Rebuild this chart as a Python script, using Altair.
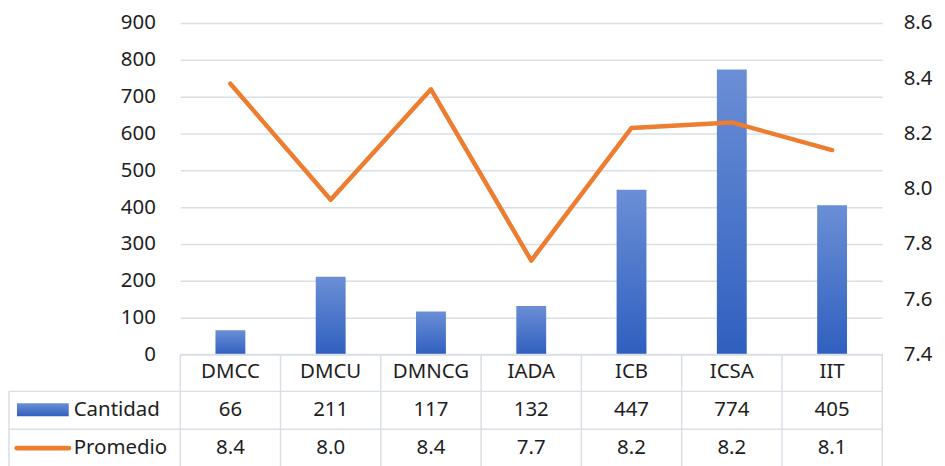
import altair as alt
import pandas as pd

categories = ["DMCC", "DMCU", "DMNCG", "IADA", "ICB", "ICSA", "IIT"]
cantidad = [66, 211, 117, 132, 447, 774, 405]
promedio = [8.38, 7.96, 8.36, 7.74, 8.22, 8.24, 8.14]
left_ticks = [0, 100, 200, 300, 400, 500, 600, 700, 800, 900]
right_ticks = [7.4, 7.6, 7.8, 8.0, 8.2, 8.4, 8.6]

df = pd.DataFrame({
    "cat": categories,
    "cantidad": cantidad,
    "promedio": promedio,
    "cant_lbl": [str(v) for v in cantidad],
    "prom_lbl": [f"{v:.1f}" for v in promedio],
})
one = pd.DataFrame({"a": [0]})

FONT = "Noto Sans"
FS = 20.5
TXT = "#1e1e1e"
GRID = "#dadfe6"
W, H = 705, 333
ROW1, ROW2, ROW3 = 351, 389, 427
TBL_BOTTOM = 460
LEFT = -172

blue_grad = alt.Gradient(
    gradient="linear",
    stops=[alt.GradientStop(color="#6b8fd6", offset=0),
           alt.GradientStop(color="#2f5fbf", offset=1)],
    x1=0, x2=0, y1=0, y2=1,
)

xenc = alt.X("cat:N", sort=categories,
             scale=alt.Scale(paddingInner=0, paddingOuter=0), axis=None)

bars = alt.Chart(df).mark_bar(size=30, color=blue_grad).encode(
    x=xenc,
    y=alt.Y("cantidad:Q", scale=alt.Scale(domain=[0, 900]),
            axis=alt.Axis(values=left_ticks, grid=True, gridColor=GRID,
                          gridWidth=1.5, domain=False, ticks=False,
                          labelPadding=25, labelFont=FONT, labelFontSize=FS,
                          labelColor=TXT, title=None)),
)

line = alt.Chart(df).mark_line(color="#ED7D31", strokeWidth=4.5,
                               strokeCap="round", strokeJoin="round").encode(
    x=xenc,
    y=alt.Y("promedio:Q", scale=alt.Scale(domain=[7.4, 8.6]),
            axis=alt.Axis(orient="right", values=right_ticks, format=".1f",
                          grid=False, domain=False, ticks=False,
                          labelPadding=21, labelFont=FONT, labelFontSize=FS,
                          labelColor=TXT, title=None)),
)

rule_kw = dict(color=GRID, strokeWidth=1.5)

# table grid: vertical separators at band starts, plus borders
vlines = alt.Chart(df).mark_rule(**rule_kw).encode(
    x=alt.X("cat:N", sort=categories, bandPosition=0,
            scale=alt.Scale(paddingInner=0, paddingOuter=0), axis=None),
    y=alt.value(H), y2=alt.value(TBL_BOTTOM),
)
vright = alt.Chart(one).mark_rule(**rule_kw).encode(
    x=alt.value(W), y=alt.value(H), y2=alt.value(TBL_BOTTOM))
vleft = alt.Chart(one).mark_rule(**rule_kw).encode(
    x=alt.value(LEFT), y=alt.value(370), y2=alt.value(TBL_BOTTOM))
h0 = alt.Chart(one).mark_rule(**rule_kw).encode(
    x=alt.value(0), x2=alt.value(W), y=alt.value(H))
h1 = alt.Chart(one).mark_rule(**rule_kw).encode(
    x=alt.value(LEFT), x2=alt.value(W), y=alt.value(370))
h2 = alt.Chart(one).mark_rule(**rule_kw).encode(
    x=alt.value(LEFT), x2=alt.value(W), y=alt.value(408))

txt_kw = dict(font=FONT, fontSize=FS, color=TXT, baseline="middle")
cat_txt = alt.Chart(df).mark_text(**txt_kw).encode(
    x=xenc, y=alt.value(ROW1), text="cat:N")
cant_txt = alt.Chart(df).mark_text(**txt_kw).encode(
    x=xenc, y=alt.value(ROW2), text="cant_lbl:N")
prom_txt = alt.Chart(df).mark_text(**txt_kw).encode(
    x=xenc, y=alt.value(ROW3), text="prom_lbl:N")

leg_rect = alt.Chart(one).mark_rect(color=blue_grad).encode(
    x=alt.value(-164), x2=alt.value(-112), y=alt.value(382), y2=alt.value(395))
leg_line = alt.Chart(one).mark_rule(color="#ED7D31", strokeWidth=5,
                                    strokeCap="round").encode(
    x=alt.value(-164), x2=alt.value(-112), y=alt.value(ROW3))
leg_t1 = alt.Chart(one).mark_text(align="left", **txt_kw).encode(
    x=alt.value(-107), y=alt.value(ROW2), text=alt.value("Cantidad"))
leg_t2 = alt.Chart(one).mark_text(align="left", **txt_kw).encode(
    x=alt.value(-107), y=alt.value(ROW3), text=alt.value("Promedio"))

chart = alt.layer(
    vlines, vright, vleft, h1, h2,
    bars, h0, line,
    cat_txt, cant_txt, prom_txt,
    leg_rect, leg_line, leg_t1, leg_t2,
).resolve_scale(y="independent").properties(
    width=W, height=H, background="white",
    padding={"left": 0, "top": 4, "right": 5, "bottom": 0},
).configure_view(stroke=None, strokeWidth=0)

chart.save("out.html", embed_options={"renderer": "svg", "actions": False})
